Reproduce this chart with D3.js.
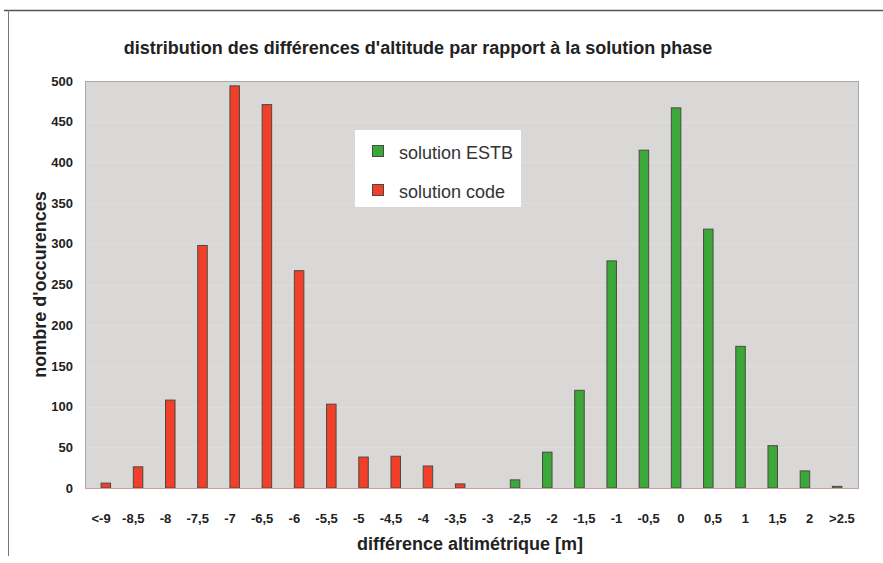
<!DOCTYPE html>
<html>
<head>
<meta charset="utf-8">
<script src="https://cdn.jsdelivr.net/npm/d3@7"></script>
<style>
  body { margin: 0; background: #fff; }
  svg { display: block; }
</style>
</head>
<body>
<script>
'use strict'

var w = 883;
var h = 563;

// categories (altitude difference bins, m)
var categories = ["<-9", "-8,5", "-8", "-7,5", "-7", "-6,5", "-6", "-5,5", "-5", "-4,5", "-4", "-3,5", "-3",
  "-2,5", "-2", "-1,5", "-1", "-0,5", "0", "0,5", "1", "1,5", "2", ">2.5"];

// solution ESTB (green)
var estbValues = [null, null, null, null, null, null, null, null, null, null, null, null, null,
  10, 44, 120, 279, 415, 467, 318, 174, 52, 21, 2];

// solution code (red)
var codeValues = [6, 26, 108, 298, 494, 471, 267, 103, 38, 39, 27, 5, null,
  null, null, null, null, null, null, null, null, null, null, null];

var seriesNames = ["solution ESTB", "solution code"];
var seriesColors = ["#3ca83a", "#f23f2a"];
var yTicks = [0, 50, 100, 150, 200, 250, 300, 350, 400, 450, 500];

var margin = {left: 85, right: 25, top: 81, bottom: 75};
var plotW = w - margin.left - margin.right;
var plotH = h - margin.top - margin.bottom;

var svg = d3.select("body")
  .append("svg")
  .attr("width", w)
  .attr("height", h)
  .style("font-family", "'Liberation Sans', Arial, sans-serif");

// outer frame (scanned page border)
svg.append("line").attr("x1", 4).attr("x2", w).attr("y1", 10.5).attr("y2", 10.5)
  .attr("stroke", "#4a5a5a").attr("stroke-width", 1.5);
svg.append("line").attr("x1", 8.5).attr("x2", 8.5).attr("y1", 10).attr("y2", 556)
  .attr("stroke", "#777").attr("stroke-width", 1);

var x = d3.scaleBand()
  .domain(categories)
  .range([margin.left, margin.left + plotW])
  .padding(0);

var barW = 9.5;
var xSub = d3.scaleBand()
  .domain(seriesNames)
  .range([x.bandwidth() / 2 - barW, x.bandwidth() / 2 + barW]);

var y = d3.scaleLinear()
  .domain([0, 500])
  .range([margin.top + plotH, margin.top]);

//plot background
svg.append("rect")
  .attr("x", margin.left)
  .attr("y", margin.top)
  .attr("width", plotW)
  .attr("height", plotH)
  .attr("fill", "#d9d8d7");

//gridlines
svg.append("g")
  .selectAll("line")
  .data(yTicks.slice(1, -1))
  .enter()
  .append("line")
  .attr("x1", margin.left)
  .attr("x2", margin.left + plotW)
  .attr("y1", function(d) { return Math.round(y(d)) + 0.5; })
  .attr("y2", function(d) { return Math.round(y(d)) + 0.5; })
  .attr("stroke", "#e4e4e4")
  .attr("stroke-dasharray", "2,2");

svg.append("rect")
  .attr("x", margin.left + 0.5)
  .attr("y", margin.top + 0.5)
  .attr("width", plotW)
  .attr("height", plotH)
  .attr("fill", "none")
  .attr("stroke", "#a8a8a8");

//bars
var allSeries = [estbValues, codeValues];
allSeries.forEach(function(vals, s) {
  svg.append("g")
    .selectAll("rect")
    .data(vals.map(function(v, i) { return {cat: categories[i], v: v}; })
      .filter(function(d) { return d.v !== null; }))
    .enter()
    .append("rect")
    .attr("x", function(d) { return x(d.cat) + xSub(seriesNames[s]); })
    .attr("y", function(d) { return y(d.v); })
    .attr("width", xSub.bandwidth())
    .attr("height", function(d) { return y(0) - y(d.v); })
    .attr("fill", seriesColors[s])
    .attr("stroke", "#4a4a40")
    .attr("stroke-width", 1);
});

//baseline
svg.append("line")
  .attr("x1", margin.left).attr("x2", margin.left + plotW)
  .attr("y1", y(0) + 0.5).attr("y2", y(0) + 0.5)
  .attr("stroke", "#c9a0a0");

//y axis labels
var yAxis = d3.axisLeft(y).tickValues(yTicks).tickSize(0).tickPadding(12);
svg.append("g")
  .attr("transform", "translate(" + margin.left + ",0)")
  .call(yAxis)
  .call(function(g) { g.select(".domain").remove(); })
  .selectAll("text")
  .style("font-size", "13px")
  .style("font-weight", "bold")
  .style("fill", "#222")
  .style("font-family", "'Liberation Sans', Arial, sans-serif");

//x axis labels
var xAxis = d3.axisBottom(x).tickSize(0).tickPadding(26);
svg.append("g")
  .attr("transform", "translate(0," + y(0) + ")")
  .call(xAxis)
  .call(function(g) { g.select(".domain").remove(); })
  .selectAll("text")
  .style("font-size", "13px")
  .style("font-weight", "bold")
  .style("fill", "#222")
  .style("font-family", "'Liberation Sans', Arial, sans-serif");

//titles
svg.append("text")
  .attr("x", 418)
  .attr("y", 54)
  .attr("text-anchor", "middle")
  .style("font-size", "18px")
  .style("font-weight", "bold")
  .style("fill", "#222")
  .text("distribution des différences d'altitude par rapport à la solution phase");

svg.append("text")
  .attr("x", 470)
  .attr("y", 550)
  .attr("text-anchor", "middle")
  .style("font-size", "18px")
  .style("font-weight", "bold")
  .style("fill", "#222")
  .text("différence altimétrique [m]");

svg.append("text")
  .attr("transform", "translate(46," + (margin.top + plotH / 2) + ") rotate(-90)")
  .attr("text-anchor", "middle")
  .style("font-size", "18px")
  .style("font-weight", "bold")
  .style("fill", "#222")
  .text("nombre d'occurences");

//legend
var legend = svg.append("g").attr("transform", "translate(355,130)");
legend.append("rect")
  .attr("width", 166)
  .attr("height", 77)
  .attr("fill", "#fff");
var items = legend.selectAll("g.item")
  .data(seriesNames)
  .enter()
  .append("g")
  .attr("class", "item")
  .attr("transform", function(d, i) { return "translate(0," + (i * 39) + ")"; });
items.append("rect")
  .attr("x", 17.5)
  .attr("y", 15.5)
  .attr("width", 11)
  .attr("height", 11)
  .attr("fill", function(d, i) { return seriesColors[i]; })
  .attr("stroke", "#4a4a40");
items.append("text")
  .attr("x", 44)
  .attr("y", 29)
  .style("font-size", "18px")
  .style("fill", "#333")
  .text(function(d) { return d; });
</script>
</body>
</html>
